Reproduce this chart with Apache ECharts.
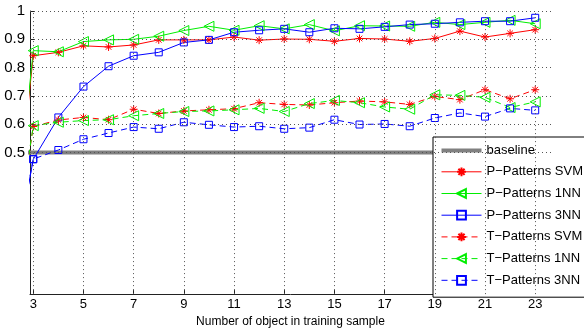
<!DOCTYPE html>
<html>
<head>
<meta charset="utf-8">
<script src="https://cdn.jsdelivr.net/npm/echarts@6/dist/echarts.min.js"></script>
<style>
html,body{margin:0;padding:0;background:#fff;}
#c{width:584px;height:333px;}
</style>
</head>
<body>
<div id="c"></div>
<script>
var xValues = [2,3,4,5,6,7,8,9,10,11,12,13,14,15,16,17,18,19,20,21,22,23];
var pSvm = [0,0.842,0.854,0.877,0.873,0.880,0.898,0.898,0.898,0.908,0.897,0.901,0.900,0.893,0.903,0.901,0.893,0.903,0.929,0.908,0.921,0.934];
var p1nn = [0,0.860,0.856,0.892,0.898,0.900,0.911,0.931,0.946,0.932,0.948,0.937,0.952,0.930,0.948,0.947,0.946,0.960,0.952,0.960,0.967,0.955];
var p3nn = [0,0.476,0.624,0.733,0.805,0.842,0.854,0.889,0.898,0.925,0.932,0.937,0.925,0.939,0.937,0.944,0.952,0.955,0.960,0.964,0.964,0.976];
var tSvm = [0,0.592,0.615,0.624,0.616,0.653,0.638,0.647,0.651,0.655,0.676,0.670,0.668,0.676,0.682,0.679,0.670,0.698,0.687,0.722,0.690,0.722];
var t1nn = [0,0.595,0.607,0.613,0.616,0.630,0.638,0.645,0.647,0.651,0.656,0.645,0.673,0.684,0.676,0.661,0.653,0.704,0.702,0.695,0.659,0.679];
var t3nn = [0,0.477,0.509,0.547,0.569,0.590,0.584,0.607,0.598,0.590,0.593,0.584,0.588,0.616,0.599,0.601,0.593,0.622,0.640,0.627,0.656,0.649];
var baselineX = [2,24];
var baselineY = [0.5,0.5];
var xTicks = [3,5,7,9,11,13,15,17,19,21,23];
var yTicks = [0.5,0.6,0.7,0.8,0.9,1];
var names = ['baseline','P\u2212Patterns SVM','P\u2212Patterns 1NN','P\u2212Patterns 3NN','T\u2212Patterns SVM','T\u2212Patterns 1NN','T\u2212Patterns 3NN'];

function pairs(xs, ys){ return xs.map(function(x,i){ return [x, ys[i]]; }); }

var STAR = 'path://M5,0L5,10M0,5L10,5M1.5,1.5L8.5,8.5M1.5,8.5L8.5,1.5';
var TRI = 'path://M0,5L10,0L10,10Z';

function mk(name, data, color, dashed, symbol, size){
  return {
    name: name, type: 'line', data: pairs(xValues, data),
    symbol: symbol, symbolSize: size, symbolKeepAspect: true,
    clip: true,
    lineStyle: {color: color, width: 1, type: dashed ? [6,4] : 'solid'},
    itemStyle: {color: 'none', borderColor: color, borderWidth: 1},
    emphasis: {disabled: true}
  };
}

var chart = echarts.init(document.getElementById('c'), null, {renderer:'canvas'});
var font = 'Liberation Sans, Arial, Helvetica, sans-serif';
var legendData = names.map(function(n, i){
  if (i === 0) return {name: n, icon: 'path://M0,0H40V4H0Z', itemStyle: {color: '#808080', borderWidth: 0}};
  return {name: n};
});
chart.setOption({
  animation: false,
  backgroundColor: '#fff',
  textStyle: {fontFamily: font},
  grid: {left: 30, top: 11, right: 33, bottom: 32, containLabel: false},
  xAxis: {
    type: 'value', min: 2.87, max: 23.63,
    name: 'Number of object in training sample', nameLocation: 'middle', nameGap: 19,
    nameTextStyle: {color: '#000', fontSize: 12, fontFamily: font},
    axisLine: {show: true, onZero: false, lineStyle: {color: '#222', width: 1}},
    axisTick: {show: true, inside: true, length: 4, customValues: xTicks, lineStyle: {color: '#222'}},
    axisLabel: {show: true, customValues: xTicks, color: '#000', fontSize: 13, margin: 4, fontFamily: font},
    splitLine: {show: false}
  },
  yAxis: {
    type: 'value', min: 0, max: 1,
    axisLine: {show: true, onZero: false, lineStyle: {color: '#222', width: 1}},
    axisTick: {show: true, inside: true, length: 4, customValues: yTicks, lineStyle: {color: '#222'}},
    axisLabel: {show: true, customValues: yTicks, color: '#000', fontSize: 15, margin: 5, fontFamily: font,
      formatter: function(v){ return String(Math.round(v*10)/10); }},
    splitLine: {show: false}
  },
  legend: {
    orient: 'vertical', left: 433, top: 137,
    data: legendData,
    itemWidth: 40, itemHeight: 11, itemGap: 7.9,
    padding: [7, 20, 10, 8],
    backgroundColor: '#fff', borderColor: '#000', borderWidth: 1,
    textStyle: {color: '#000', fontSize: 13, fontFamily: font},
    lineStyle: {width: 1},
    selectedMode: false
  },
  series: [
    {
      name: '__grid', type: 'line', data: [], silent: true, z: 1,
      markLine: {
        silent: true, symbol: 'none', animation: false,
        label: {show: false},
        lineStyle: {color: '#555', width: 1, type: [1,3]},
        emphasis: {disabled: true},
        data: xTicks.map(function(v){ return {xAxis: v}; }).concat(yTicks.map(function(v){ return {yAxis: v}; }))
      }
    },
    {
      name: names[0], type: 'line', data: pairs(baselineX, baselineY), symbol: 'none', clip: true,
      lineStyle: {color: '#808080', width: 4}, itemStyle: {color: '#808080'}, emphasis: {disabled: true}
    },
    mk(names[1], pSvm, '#ff0000', false, STAR, 8),
    mk(names[2], p1nn, '#00ee00', false, TRI, 10),
    mk(names[3], p3nn, '#0000ff', false, 'rect', 7),
    mk(names[4], tSvm, '#ff0000', true, STAR, 8),
    mk(names[5], t1nn, '#00ee00', true, TRI, 10),
    mk(names[6], t3nn, '#0000ff', true, 'rect', 7)
  ]
});
</script>
</body>
</html>
